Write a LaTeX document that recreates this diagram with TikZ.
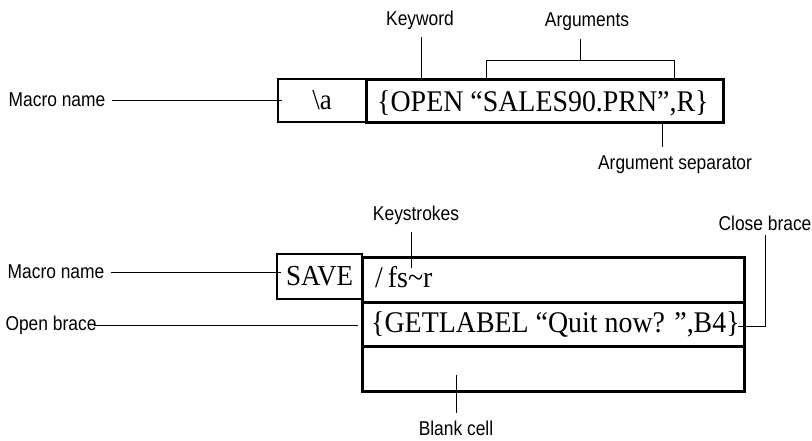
\documentclass[tikz,border=0pt]{standalone}
\usepackage{fontspec}
\setmainfont[FakeStretch=0.93]{Liberation Serif}
\newfontfamily\labelfont[FakeStretch=0.87]{Liberation Sans}
\begin{document}
\begin{tikzpicture}[x=1pt,y=-1pt,
  cellbox/.style={draw, line width=2.6pt, rectangle, inner sep=0pt, anchor=north west},
  namebox/.style={draw, line width=2pt, rectangle, inner sep=0pt, anchor=north west,
    font=\fontsize{29}{31}\selectfont},
  entry/.style={font=\fontsize{30}{32}\selectfont, inner sep=0pt, anchor=base west},
  callout/.style={font=\labelfont\fontsize{20}{22}\selectfont, inner sep=1pt},
  lead/.style={line width=0.9pt}]
\useasboundingbox (0,0) rectangle (812,440);

% ---- macro \a : one name cell and one instruction cell ----
\node[namebox, minimum width=88pt, minimum height=43pt] (mname) at (277,78) {\textbackslash a};
\node[cellbox, minimum width=357pt, minimum height=43pt] (mcell) at (365,78) {};
\node[entry] (mtext) at (377,111) {\{OPEN “SALES90.PRN”,R\}};

\node[callout] (lblname1) at (57,100) {Macro name};
\draw[lead] ([xshift=5pt]lblname1.east) -- ([xshift=5pt]lblname1.east -| mname.west);

\node[callout] (kw) at (420,20) {Keyword};
\coordinate (kwfoot) at (421,37);
\draw[lead] (kwfoot) -- (kwfoot |- mcell.north);

\node[callout] (args) at (587,22) {Arguments};
\coordinate (argtop) at (580,39);
\coordinate (argL) at (486,60);
\coordinate (argR) at (674,60);
\draw[lead] (argtop) -- (argtop |- argL);
\draw[lead] (argL |- mcell.north) -- (argL) -- (argR) -- (argR |- mcell.north);

\node[callout] (sep) at (675,165) {Argument separator};
\coordinate (sepfoot) at (662,147);
\draw[lead] (sepfoot |- mcell.south) -- (sepfoot);

% ---- macro SAVE : three stacked cells ----
\node[namebox, minimum width=85pt, minimum height=45pt] (sname) at (276,253) {SAVE};
\node[cellbox, minimum width=382pt, minimum height=45pt] (row1) at (361,256) {};
\node[cellbox, minimum width=382pt, minimum height=44pt] (row2) at (361,301) {};
\node[cellbox, minimum width=382pt, minimum height=45pt] (row3) at (361,345) {};
\node[entry] (keys) at (375,287) {/\kern5pt fs\textasciitilde r};
\node[entry] (getl) at (371,332) {\{GETLABEL “Quit now? ”,B4\}};

\node[callout] (lblname2) at (56,272) {Macro name};
\draw[lead] ([xshift=5pt]lblname2.east) -- ([xshift=5pt]lblname2.east -| sname.west);

\node[callout, inner sep=0pt] (lblopen) at (51,325) {Open brace};
\draw[lead] ([xshift=-3pt]lblopen.east) -- ([xshift=-3pt]lblopen.east -| row2.west);

\node[callout] (ks) at (416,215) {Keystrokes};
\coordinate (kstop) at (411,232);
\coordinate (ksfoot) at (411,268);
\draw[lead] (kstop) -- (ksfoot);

\node[callout] (cb) at (765,223) {Close brace};
\coordinate (cbtop) at (765,235);
\coordinate (cbcorner) at (765,326);
\coordinate (cbend) at (738,326);
\draw[lead] (cbtop) -- (cbcorner) -- (cbend);

\node[callout] (blank) at (456,428) {Blank cell};
\coordinate (bctop) at (456,375);
\coordinate (bcfoot) at (456,413);
\draw[lead] (bctop) -- (bcfoot);
\end{tikzpicture}
\end{document}
